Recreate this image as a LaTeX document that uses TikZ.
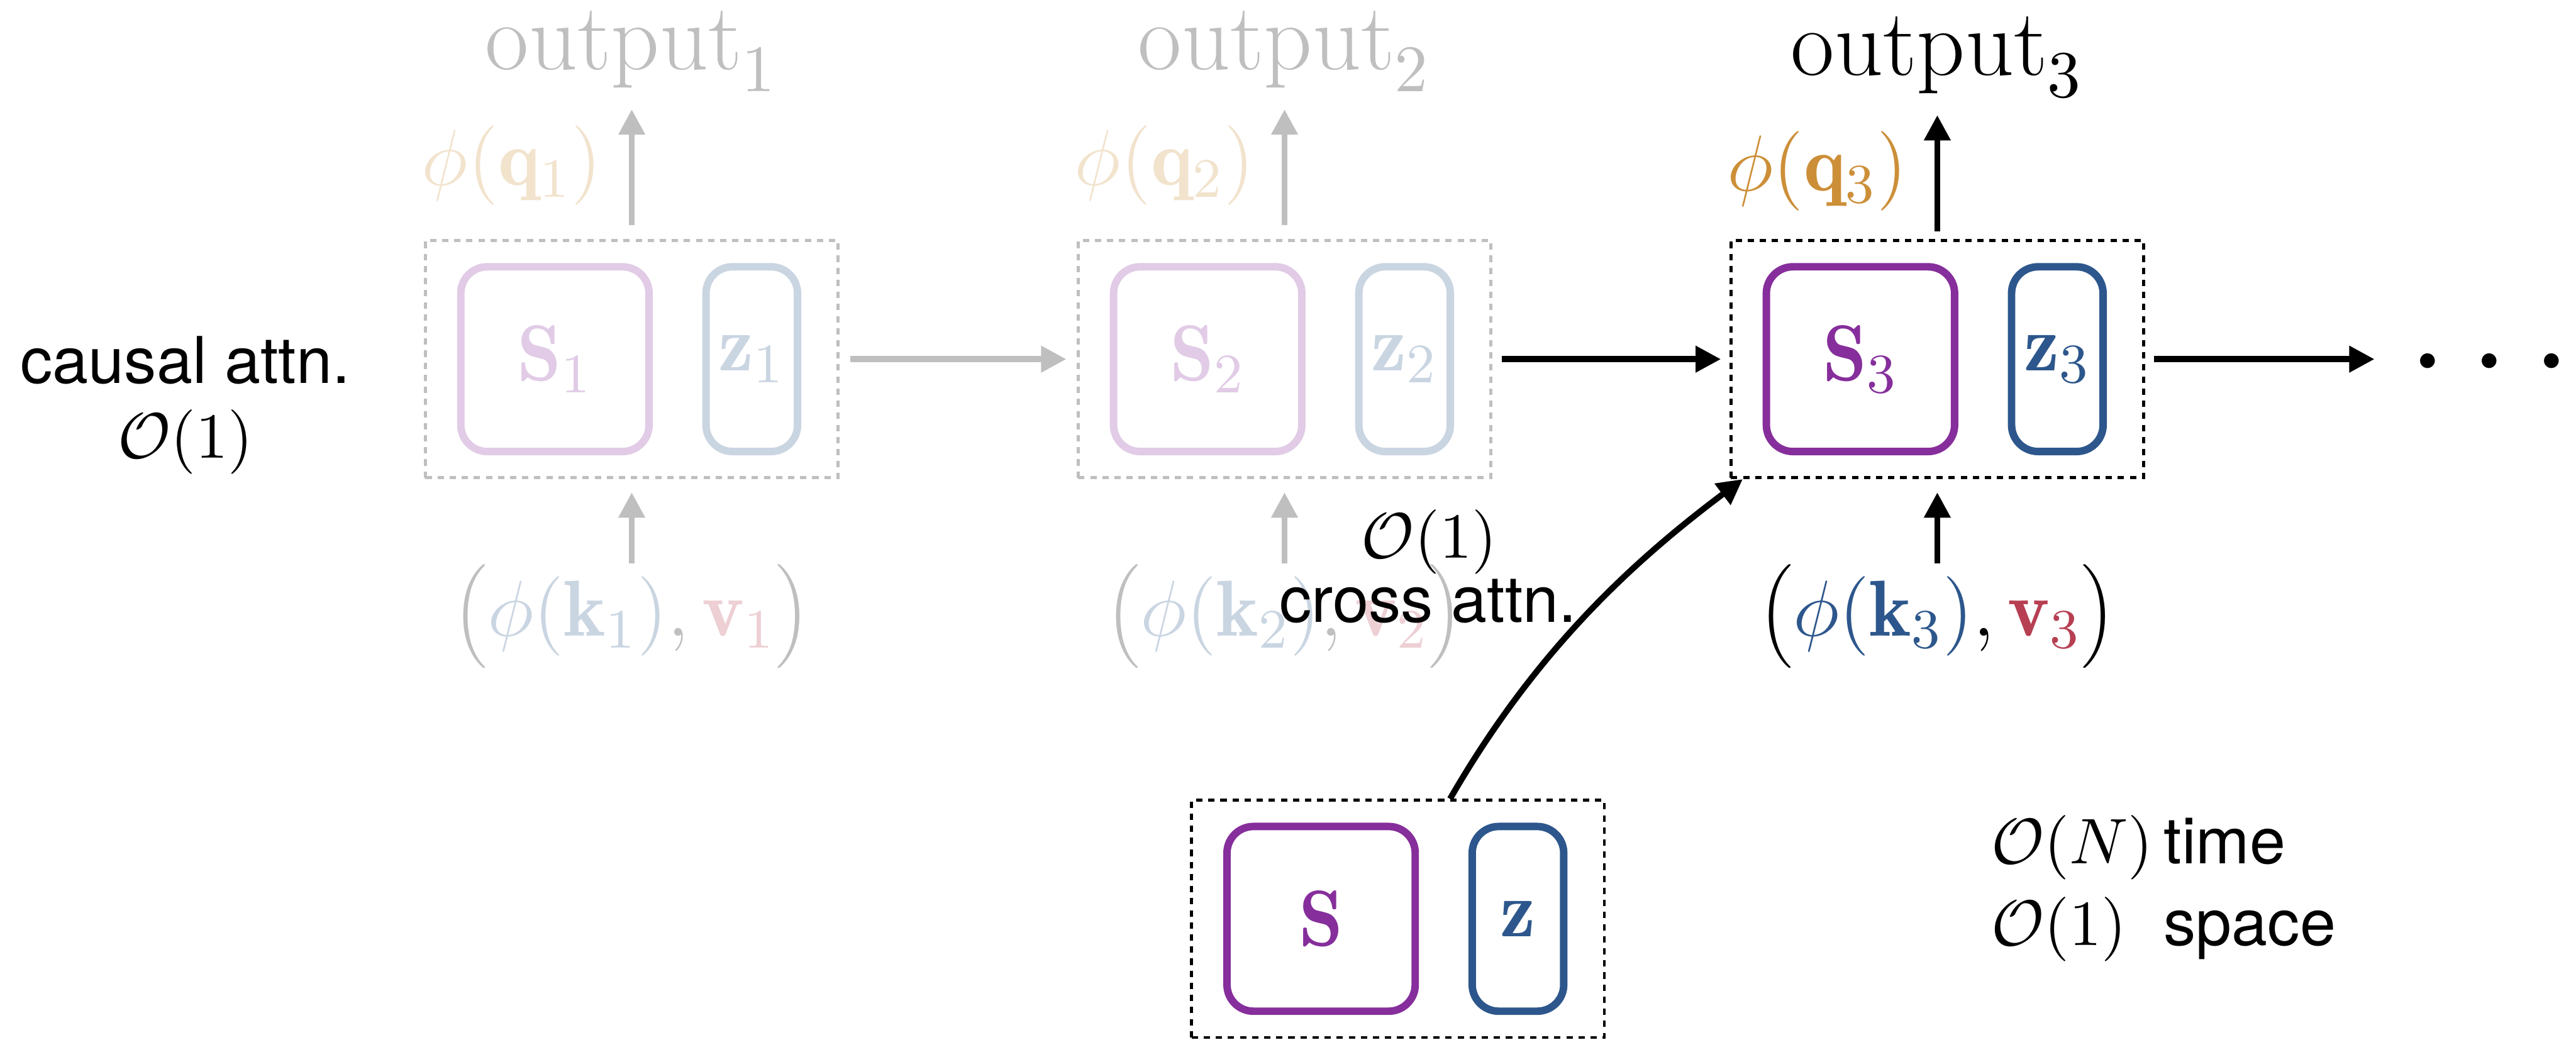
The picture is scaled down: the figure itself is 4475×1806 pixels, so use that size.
\RequirePackage{fix-cm}
\documentclass[tikz,border=0pt]{standalone}
\usepackage{fontspec}
\newfontfamily\hv{TeX Gyre Heros}
\usetikzlibrary{arrows.meta}

\definecolor{cpurple}{RGB}{134,46,155}
\definecolor{cblue}{RGB}{45,87,140}
\definecolor{corange}{RGB}{204,143,56}
\definecolor{cred}{RGB}{183,63,82}

% enlarged outer parentheses around a key/value pair
\newcommand\kvopen{\mathopen{\hbox{$\left(\vcenter to 16pt{}\right.\nulldelimiterspace=0pt$}}}
\newcommand\kvclose{\mathclose{\hbox{$\left.\vcenter to 16pt{}\right)\nulldelimiterspace=0pt$}}}

\tikzset{
  dbox/.style={draw, dash pattern=on 1.1pt off 1pt, line width=0.5pt,
    minimum width=71.7pt, minimum height=41.2pt, inner sep=0pt},
  sbox/.style={draw, rounded corners=4.6pt, line width=1.3pt,
    minimum width=32.7pt, minimum height=32.1pt, inner sep=0pt,
    font=\fontsize{13.8}{16.5}\selectfont},
  zbox/.style={sbox, minimum width=15.9pt},
  arr/.style={line width=1.05pt, -{Triangle[length=4.4pt,width=4.4pt]}},
  lab/.style={inner sep=0pt, font=\fontsize{13.8}{16.5}\selectfont},
  outlab/.style={inner sep=0pt, anchor=base, font=\fontsize{16.5}{19.8}\selectfont},
  mlab/.style={inner sep=0pt, font=\fontsize{11.2}{13.4}\selectfont},
  txt/.style={inner sep=0pt, font=\hv\fontsize{11.2}{13.4}\selectfont},
}

% one recurrent step: state box with S and z, its query/output above and
% its key/value input below
% #1 name, #2 centre x, #3 index, #4 colour strength, #5 downward shift of the top part
\newcommand\stepblock[5]{%
  \colorlet{fk}{black!#4}\colorlet{fp}{cpurple!#4}\colorlet{fb}{cblue!#4}%
  \colorlet{fo}{corange!#4}\colorlet{fr}{cred!#4}%
  \node[dbox, draw=fk] (#1) at (#2,624) {};
  \node[sbox, draw=fp, text=fp] (#1s) at ([xshift=-13.35pt]#1.center) {$\mathbf{S}_{#3}$};
  \node[zbox, draw=fb, text=fb] (#1z) at ([xshift=20.85pt]#1.center) {$\mathbf{z}_{#3}$};
  \node[outlab, text=fk] (#1out) at (#2,121+#5) {$\mathrm{output}_{#3}$};
  \node[lab, text=fo, anchor=base east] (#1q) at (#2-50,322+#5) {$\phi(\mathbf{q}_{#3})$};
  \node[lab, text=fk, anchor=base] (#1kv) at (#2,1105)
    {$\kvopen{\color{fb}\phi(\mathbf{k}_{#3})},{\color{fr}\mathbf{v}_{#3}}\kvclose$};
  \draw[arr, color=fk, shorten <={(24-#5)*0.1pt}, shorten >=2.9pt] (#1.north) -- (#1out.south);
  \draw[arr, color=fk, shorten >=2.3pt] (#1kv.north) -- (#1.south);
}

\begin{document}
\begin{tikzpicture}[x=0.1pt,y=-0.1pt]
\fill[white] (0,0) rectangle (4475,1806);
\useasboundingbox (0,0) rectangle (4475,1806);

% three steps of the recurrence, the first two faded
\stepblock{b1}{1097.5}{1}{25}{0}
\stepblock{b2}{2231.5}{2}{25}{0}
\stepblock{b3}{3365.5}{3}{100}{10}

% continuation dots
\node[lab, anchor=base west, font=\fontsize{24.2}{29}\selectfont] (dots) at (4182,687.5) {$\cdots$};

% state passed along the sequence
\draw[arr, color=black!25, shorten <=1.9pt, shorten >=1.8pt] (b1.east) -- (b2.west);
\draw[arr, shorten <=1.6pt, shorten >=1.5pt] (b2.east) -- (b3.west);
\draw[arr, shorten <=1.5pt, shorten >=5.7pt] (b3.east) -- (b3.east -| dots.west);

% summary state used for cross attention
\node[dbox] (b0) at (2428.5,1596.5) {};
\node[sbox, draw=cpurple, text=cpurple] (b0s) at ([xshift=-13.35pt]b0.center) {$\mathbf{S}$};
\node[zbox, draw=cblue, text=cblue] (b0z) at ([xshift=20.85pt]b0.center) {$\mathbf{z}$};
\draw[arr] ([xshift=9.05pt]b0.north) .. controls +(145,-251) and +(-200,150) .. ([xshift=2.3pt]b3.south west);

% labels
\node[txt, anchor=base] (causal) at (322,666) {causal attn.};
\node[mlab, anchor=base] (causalO) at (322,796) {$\mathcal{O}(1)$};
\node[mlab, anchor=base] (crossO) at (2483,970) {$\mathcal{O}(1)$};
\node[txt, anchor=base] (cross) at (2481,1081) {cross attn.};
\node[mlab, anchor=base west] (timeO) at (3457,1500) {$\mathcal{O}(N)$};
\node[txt, anchor=base west] (time) at (3757,1500) {time};
\node[mlab, anchor=base west] (spaceO) at (3457,1643) {$\mathcal{O}(1)$};
\node[txt, anchor=base west] (space) at (3757,1643) {space};
\end{tikzpicture}
\end{document}
